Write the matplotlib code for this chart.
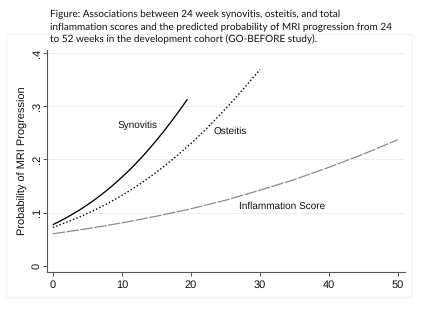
import matplotlib
matplotlib.use("Agg")
import matplotlib.pyplot as plt
from matplotlib.patches import Rectangle

# Predicted probability of MRI progression by 24-week score
syn_x = [0, 1, 2, 3, 4, 5, 6, 7, 8, 9, 10, 11, 12, 13, 14, 15, 16, 17, 18, 19, 19.5]
syn_p = [0.0770, 0.0835, 0.0904, 0.0978, 0.1057, 0.1143, 0.1234, 0.1331, 0.1435,
         0.1545, 0.1662, 0.1786, 0.1917, 0.2055, 0.2201, 0.2354, 0.2514, 0.2682,
         0.2856, 0.3037, 0.3129]

ost_x = [0, 2, 4, 6, 8, 10, 12, 14, 16, 18, 20, 22, 24, 26, 28, 30]
ost_p = [0.0720, 0.0816, 0.0922, 0.1041, 0.1174, 0.1320, 0.1482, 0.1661, 0.1856,
         0.2068, 0.2297, 0.2544, 0.2808, 0.3087, 0.3382, 0.3689]

inf_x = [0, 5, 10, 15, 20, 25, 30, 35, 40, 45, 50]
inf_p = [0.060, 0.0695, 0.0805, 0.093, 0.107, 0.123, 0.142, 0.162, 0.185, 0.210, 0.237]

x_ticks = [0, 10, 20, 30, 40, 50]
y_ticks = [0, 0.1, 0.2, 0.3, 0.4]
y_tick_labels = ["0", ".1", ".2", ".3", ".4"]

title_lines = [
    "Figure: Associations between 24 week synovitis, osteitis, and total",
    "inflammation scores and the predicted probability of MRI progression from 24",
    "to 52 weeks in the development cohort (GO-BEFORE study).",
]

plt.rcParams["text.hinting"] = "no_hinting"
plt.rcParams["text.hinting_factor"] = 1

W, H = 434, 326
fig = plt.figure(figsize=(W / 100, H / 100), dpi=100)
fig.patch.set_facecolor("white")

# faint graph-region frame
fig.patches.append(Rectangle((6 / W, 1 - 297 / H), (412 - 6) / W, (297 - 34) / H,
                             transform=fig.transFigure, facecolor="none",
                             edgecolor="#f2f2f2", linewidth=0.8))

# caption: pick the size at which the longest line spans 341 px
renderer = fig.canvas.get_renderer()
best_size, best_err = 8.0, 1e9
for k in range(0, 61):
    size = 6.5 + 0.05 * k
    probe = fig.text(0, 0, title_lines[1], fontsize=size, family="Lato")
    w = probe.get_window_extent(renderer).width
    probe.remove()
    if abs(w - 341) < best_err:
        best_size, best_err = size, abs(w - 341)

for i, line in enumerate(title_lines):
    fig.text(50 / W, 1 - (17.5 + 12.2 * i) / H, line, ha="left", va="baseline",
             fontsize=best_size, family="Lato", color="#111111")

ax = fig.add_axes([46.5 / W, 1 - 272 / H, (405 - 46.5) / W, (272 - 50) / H])
ax.set_xlim(-0.9, 51.0)
ax.set_ylim(-0.0118, 0.4055)

for yv in y_ticks[1:]:
    ax.axhline(yv, color="#eeeeee", linewidth=0.7, zorder=0)

ax.plot(syn_x, syn_p, color="black", linewidth=0.95, solid_capstyle="butt")
ax.plot(ost_x, ost_p, color="black", linewidth=1.0, linestyle=(0, (1.0, 1.6)))
ax.plot(inf_x, inf_p, color="#8c8c8c", linewidth=0.9, linestyle=(0, (10, 1.2)))

lab_kw = dict(fontsize=7.2, family="Liberation Sans", color="#111111",
              ha="center", va="center")
ax.text(12.3, 0.264, "Synovitis", **lab_kw)
ax.text(25.7, 0.252, "Osteitis", **lab_kw)
ax.text(33.2, 0.112, "Inflammation Score", **lab_kw)

ax.set_xticks(x_ticks)
ax.set_yticks(y_ticks)
ax.set_yticklabels(y_tick_labels, rotation=90, va="center")
for lbl in ax.get_xticklabels() + ax.get_yticklabels():
    lbl.set_family("Liberation Sans")
    lbl.set_fontsize(7.8)
    lbl.set_color("#111111")
ax.tick_params(direction="out", length=3.0, width=0.7, color="#555555", pad=3.0)
ax.tick_params(axis="y", pad=0.2)

ax.set_ylabel("Probability of MRI Progression", fontsize=7.9,
              family="Liberation Sans", color="#111111", labelpad=3.0)

for s in ["top", "right"]:
    ax.spines[s].set_visible(False)
for s in ["left", "bottom"]:
    ax.spines[s].set_color("#555555")
    ax.spines[s].set_linewidth(0.8)
ax.set_facecolor("white")

fig.savefig("out.png", dpi=100)
